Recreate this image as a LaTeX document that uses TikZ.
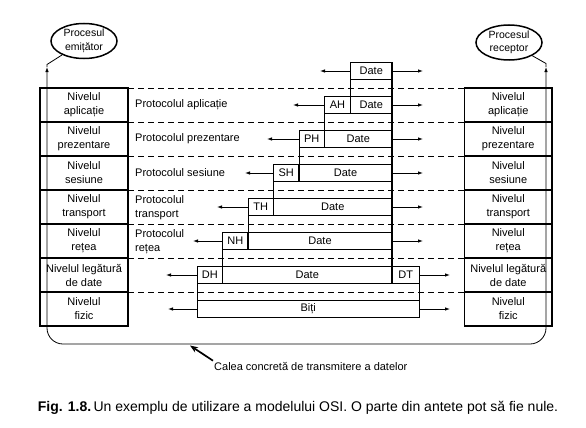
\documentclass[tikz,border=0pt]{standalone}
\usepackage{fontspec}
\setmainfont{Liberation Sans}
\usetikzlibrary{arrows.meta,shapes.geometric}
\begin{document}
\begin{tikzpicture}[x=1pt,y=-1pt,
  thinl/.style={line width=0.8pt},
  thickl/.style={line width=1.7pt},
  txt/.style={font=\fontsize{11}{14}\selectfont},
  lvl/.style={draw,line width=1.5pt,minimum height=34pt,inner sep=0pt,outer sep=0pt,align=center,txt},
  lvlL/.style={lvl,minimum width=88pt},
  lvlR/.style={lvl,minimum width=87.5pt},
  cell/.style={anchor=north west,minimum height=17pt,inner sep=0pt,outer sep=0pt,txt},
  hdr/.style={cell,draw,thinl},
  datab/.style={cell,draw,thickl},
  emptyb/.style={cell,draw,thinl},
  proc/.style={draw,ellipse,line width=1.5pt,inner sep=0pt,minimum width=66pt,minimum height=35pt,align=center,font=\fontsize{10.5}{13.5}\selectfont},
  plabel/.style={anchor=west,align=left,inner sep=0pt,txt},
  dashline/.style={thinl,dash pattern=on 6pt off 4pt},
  arr/.style={thinl,-{Latex[length=5pt,width=3.5pt]}},
]
\useasboundingbox[fill=white] (0,0) rectangle (586,428);

% dashed separators (drawn first)
\foreach \k/\y in {0/88,1/122,2/156,3/190,4/224,5/258,6/292}{
  \coordinate (dl\k) at (128,\y);
  \coordinate (dr\k) at (464.5,\y);
  \draw[dashline] (dl\k) -- (dr\k);
}

% process ellipses
\node[proc] (emit) at (84,41) {Procesul\\emițător};
\node[proc] (recv) at (509,42.5) {Procesul\\receptor};

% left and right level stacks
\node[lvlL] (L1) at (84,105) {Nivelul\\aplicație};
\node[lvlL] (L2) at (84,139) {Nivelul\\prezentare};
\node[lvlL] (L3) at (84,173) {Nivelul\\sesiune};
\node[lvlL] (L4) at (84,207) {Nivelul\\transport};
\node[lvlL] (L5) at (84,241) {Nivelul\\rețea};
\node[lvlL] (L6) at (84,275) {Nivelul legătură\\de date};
\node[lvlL] (L7) at (84,309) {Nivelul\\fizic};

\node[lvlR] (R1) at (508.25,105) {Nivelul\\aplicație};
\node[lvlR] (R2) at (508.25,139) {Nivelul\\prezentare};
\node[lvlR] (R3) at (508.25,173) {Nivelul\\sesiune};
\node[lvlR] (R4) at (508.25,207) {Nivelul\\transport};
\node[lvlR] (R5) at (508.25,241) {Nivelul\\rețea};
\node[lvlR] (R6) at (508.25,275) {Nivelul legătură\\de date};
\node[lvlR] (R7) at (508.25,309) {Nivelul\\fizic};

% path of the data (left side up, bottom, right side up)
\coordinate (lc) at (47,64.5);
\coordinate (la) at (47,67);
\coordinate (lb) at (47,344);
\coordinate (rc) at (546,63.5);
\coordinate (ra) at (546,67);
\coordinate (rb) at (546,344);
\draw[thinl] (emit) -- (lc) -- (la);
\draw[thinl] (recv) -- (rc) -- (ra);
\draw[thinl,rounded corners=16pt,{Latex[length=5pt,width=3.5pt]}-{Latex[length=5pt,width=3.5pt]}] (la) -- (lb) -- (rb) -- (ra);

% protocol labels
\node[plabel] (p1) at (135,105) {Protocolul aplicație};
\node[plabel] (p2) at (135,139) {Protocolul prezentare};
\node[plabel] (p3) at (135,173) {Protocolul sesiune};
\node[plabel] (p4) at (135,207.5) {Protocolul\\transport};
\node[plabel] (p5) at (135,241.5) {Protocolul\\rețea};

% middle stack
\node[datab,minimum width=41.5pt] (d0) at (350.5,62.5) {Date};
\node[datab,minimum width=41.5pt] (e0) at (350.5,79.5) {};
\node[hdr,minimum width=26pt] (ah) at (324.5,96.5) {AH};
\node[datab,minimum width=41.5pt] (d1) at (350.5,96.5) {Date};
\node[emptyb,minimum width=67.5pt] (e1) at (324.5,113.5) {};
\node[hdr,minimum width=25.5pt] (ph) at (299,130.5) {PH};
\node[datab,minimum width=67.5pt] (d2) at (324.5,130.5) {Date};
\node[emptyb,minimum width=93pt] (e2) at (299,147.5) {};
\node[hdr,minimum width=25.5pt] (sh) at (273.5,164.5) {SH};
\node[datab,minimum width=93pt] (d3) at (299,164.5) {Date};
\node[emptyb,minimum width=118.5pt] (e3) at (273.5,181.5) {};
\node[hdr,minimum width=25.5pt] (th) at (248,198.5) {TH};
\node[datab,minimum width=118.5pt] (d4) at (273.5,198.5) {Date};
\node[emptyb,minimum width=144pt] (e4) at (248,215.5) {};
\node[hdr,minimum width=25.5pt] (nh) at (222.5,232.5) {NH};
\node[datab,minimum width=144pt] (d5) at (248,232.5) {Date};
\node[emptyb,minimum width=169.5pt] (e5) at (222.5,249.5) {};
\node[hdr,minimum width=25.5pt] (dh) at (197,266.5) {DH};
\node[datab,minimum width=169.5pt] (d6) at (222.5,266.5) {Date};
\node[hdr,minimum width=27.5pt] (dt) at (392,266.5) {DT};
\node[emptyb,minimum width=222.5pt] (e6) at (197,283.5) {};
\node[hdr,minimum width=222.5pt] (biti) at (197,300.5) {Biți};
\draw[thickl] (d0.north east) -- (d6.south east);

% horizontal arrows
\foreach \n/\x in {d0/320,ah/293,ph/267,sh/245,th/217,nh/193,dh/166,biti/168}{
  \coordinate (\n-l) at (\x,0 |- \n.west);
  \draw[arr] (\n.west) -- (\n-l);
}
\foreach \n/\x in {d0/423,d1/423,d2/423,d3/423,d4/423,d5/423,dt/450,biti/450}{
  \coordinate (\n-r) at (\x,0 |- \n.east);
  \draw[arr] (\n.east) -- (\n-r);
}

% concrete path label
\node[anchor=west,inner sep=1pt,txt] (calea) at (213,366) {Calea concretă de transmitere a datelor};
\coordinate (ctip) at (190,345.5);
\draw[thickl,-{Stealth[length=8pt,width=6pt]}] (calea.north west) -- (ctip);

% caption
\node[inner sep=0pt,font=\fontsize{14}{16}\selectfont] (cap) at (298,408) {\textbf{Fig. 1.8.}\,Un exemplu de utilizare a modelului OSI. O parte din antete pot să fie nule.};
\end{tikzpicture}
\end{document}
